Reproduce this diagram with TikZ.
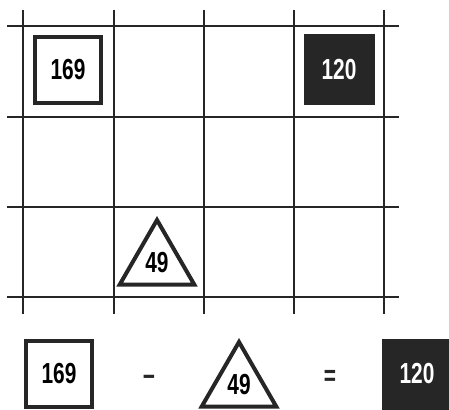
\documentclass[tikz,border=0pt]{standalone}
\usepackage{fontspec}
\newfontfamily\numfont[FakeStretch=0.72]{Liberation Sans}
\usepackage{tikz}
\usetikzlibrary{positioning, shapes.geometric}

\begin{document}
\begin{tikzpicture}[x=1pt, y=-1pt,
    gridline/.style={line width=1.2pt, black!85},
    numfont/.style={font=\numfont\bfseries\fontsize{29}{29}\selectfont},
    sqbox/.style={rectangle, draw=black!85, line width=4pt, minimum width=66pt, minimum height=66pt, numfont},
    darkbox/.style={rectangle, fill=black!85, text=white, minimum width=71pt, minimum height=71pt, numfont},
    tri/.style={regular polygon, regular polygon sides=3, draw=black!85, line width=4pt, minimum size=86pt, inner sep=0pt, numfont},
    sign/.style={numfont, text=black!85}
]
\useasboundingbox (0,0) rectangle (449,409);

% grid
\foreach \x in {23,114,204,294,384}
    \draw[gridline] (\x,10) -- (\x,314);
\foreach \y in {26,117,207,297}
    \draw[gridline] (7,\y) -- (399,\y);

% pieces on the grid
\node[sqbox] (sq) at (68,70) {169};
\node[darkbox] (dk) at (339,70) {120};
\node[tri] (tr) at (157,263) {49};

% the equation below
\node[sqbox] (eqsq) at (59,374) {169};
\node[sign] (minus) at (149,381) {\char"2212};
\node[tri] (eqtr) at (239,385) {49};
\node[sign] (equals) at (330,378) {=};
\node[darkbox] (eqdk) at (417,374) {120};
\end{tikzpicture}
\end{document}
